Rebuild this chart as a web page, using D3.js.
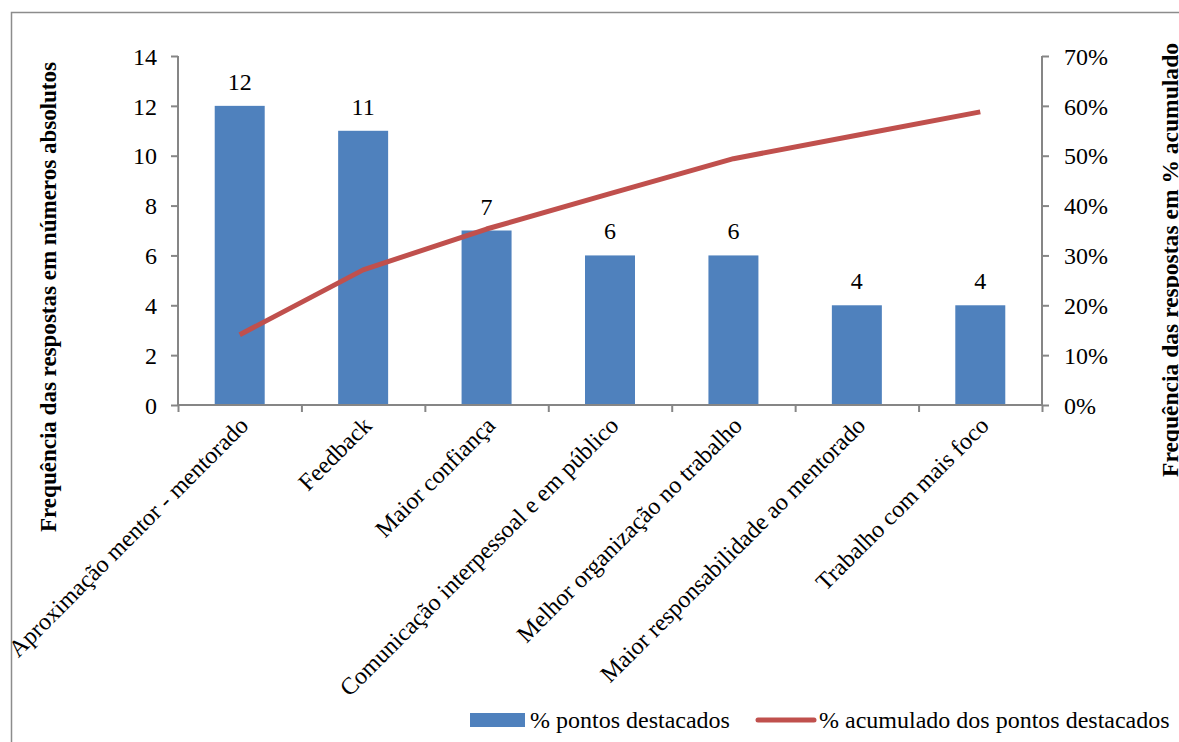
<!DOCTYPE html>
<html>
<head>
<meta charset="utf-8">
<script src="https://cdn.jsdelivr.net/npm/d3@7"></script>
<style>
  html, body { margin: 0; padding: 0; background: #fff; }
  svg { display: block; }
</style>
</head>
<body>
<svg id="chart" width="1179" height="742"></svg>
<script>
const categories = [
  "Aproximação mentor - mentorado",
  "Feedback",
  "Maior confiança",
  "Comunicação interpessoal e em público",
  "Melhor organização no trabalho",
  "Maior responsabilidade ao mentorado",
  "Trabalho com mais foco"
];
const counts = [12, 11, 7, 6, 6, 4, 4];
const cumulativePct = [14.1, 27.1, 35.3, 42.4, 49.4, 54.1, 58.8];
const leftTicks = [0, 2, 4, 6, 8, 10, 12, 14];
const rightTicks = [0, 10, 20, 30, 40, 50, 60, 70];
const leftTitle = "Frequência das respostas em números absolutos";
const rightTitle = "Frequência das respostas em % acumulado";
const legendLabels = ["% pontos destacados", "% acumulado dos pontos destacados"];

const FONT = "'Liberation Serif'";
const svg = d3.select("#chart");
const W = 1179, H = 742;
const plot = { left: 178, right: 1042, top: 56, bottom: 405 };
const axisColor = "#868686";
const barColor = "#4F81BD";
const lineColor = "#C0504D";
const fs = 24;

// frame
svg.append("rect").attr("x", 11.5).attr("y", 12.5).attr("width", W).attr("height", H)
  .attr("fill", "none").attr("stroke", "#8c8c8c").attr("stroke-width", 1.5);

const x = d3.scaleBand().domain(categories).range([plot.left, plot.right]).padding(0);
const yL = d3.scaleLinear().domain([0, 14]).range([plot.bottom, plot.top]);
const yR = d3.scaleLinear().domain([0, 70]).range([plot.bottom, plot.top]);
const barW = x.bandwidth() * 0.405;

// bars
svg.append("g").selectAll("rect").data(counts).join("rect")
  .attr("x", (d, i) => x(categories[i]) + x.bandwidth() / 2 - barW / 2)
  .attr("y", d => yL(d))
  .attr("width", barW)
  .attr("height", d => yL(0) - yL(d))
  .attr("fill", barColor);

// axes
const gL = svg.append("g").attr("transform", `translate(${plot.left},0)`)
  .call(d3.axisLeft(yL).tickValues(leftTicks).tickSize(7).tickPadding(14).tickFormat(d3.format("d")));
const gR = svg.append("g").attr("transform", `translate(${plot.right},0)`)
  .call(d3.axisRight(yR).tickValues(rightTicks).tickSize(7).tickPadding(15).tickFormat(d => d + "%"));
const boundaries = d3.range(categories.length + 1).map(i => plot.left + i * x.step());
const xb = d3.scaleLinear().domain([plot.left, plot.right]).range([plot.left, plot.right]);
const gB = svg.append("g").attr("transform", `translate(0,${plot.bottom})`)
  .call(d3.axisBottom(xb).tickValues(boundaries).tickSize(7).tickFormat(""));

[gL, gR, gB].forEach(g => {
  g.select(".domain").attr("stroke", axisColor).attr("stroke-width", 2);
  g.selectAll(".tick line").attr("stroke", axisColor).attr("stroke-width", 2);
  g.selectAll(".tick text").attr("font-size", fs).style("font-family", FONT).attr("fill", "#000");
});
gL.select(".domain").attr("d", `M0,${plot.top}V${plot.bottom}`);
gR.select(".domain").attr("d", `M0,${plot.top}V${plot.bottom}`);
gB.select(".domain").attr("d", `M${plot.left},0H${plot.right}`);
gL.selectAll(".tick text").attr("dy", "0.34em");
gR.selectAll(".tick text").attr("dy", "0.34em");

// category labels
svg.append("g").selectAll("text").data(categories).join("text")
  .attr("transform", d => `translate(${x(d) + x.bandwidth() / 2 + 10},${plot.bottom + 22}) rotate(-45)`)
  .attr("text-anchor", "end")
  .style("font-family", FONT)
  .attr("font-size", fs)
  .text(d => d);

// data labels
svg.append("g").selectAll("text").data(counts).join("text")
  .attr("x", (d, i) => x(categories[i]) + x.bandwidth() / 2)
  .attr("y", d => yL(d) - 16)
  .attr("text-anchor", "middle")
  .style("font-family", FONT)
  .attr("font-size", fs)
  .text(d => d);

// cumulative line
const line = d3.line()
  .x((d, i) => x(categories[i]) + x.bandwidth() / 2)
  .y(d => yR(d));
svg.append("path").datum(cumulativePct)
  .attr("d", line)
  .attr("fill", "none")
  .attr("stroke", lineColor)
  .attr("stroke-width", 5)
  .attr("stroke-linejoin", "round");

// axis titles
svg.append("text")
  .attr("transform", `translate(56,${(62 + 532) / 2}) rotate(-90)`)
  .attr("text-anchor", "middle")
  .style("font-family", FONT)
  .attr("font-size", 24).attr("font-weight", "bold")
  .attr("textLength", 470).attr("lengthAdjust", "spacingAndGlyphs")
  .text(leftTitle);
svg.append("text")
  .attr("transform", `translate(1178,${(43 + 477) / 2}) rotate(-90)`)
  .attr("text-anchor", "middle")
  .style("font-family", FONT)
  .attr("font-size", 24).attr("font-weight", "bold")
  .attr("textLength", 434).attr("lengthAdjust", "spacingAndGlyphs")
  .text(rightTitle);

// legend
const lg = svg.append("g");
lg.append("rect").attr("x", 470).attr("y", 713).attr("width", 55).attr("height", 14).attr("fill", barColor);
lg.append("text").attr("x", 530).attr("y", 728).attr("font-size", fs).style("font-family", FONT).text(legendLabels[0]);
lg.append("line").attr("x1", 758).attr("x2", 814).attr("y1", 720).attr("y2", 720)
  .attr("stroke", lineColor).attr("stroke-width", 5).attr("stroke-linecap", "round");
lg.append("text").attr("x", 819).attr("y", 728).attr("font-size", fs).style("font-family", FONT).text(legendLabels[1]);
</script>
</body>
</html>
